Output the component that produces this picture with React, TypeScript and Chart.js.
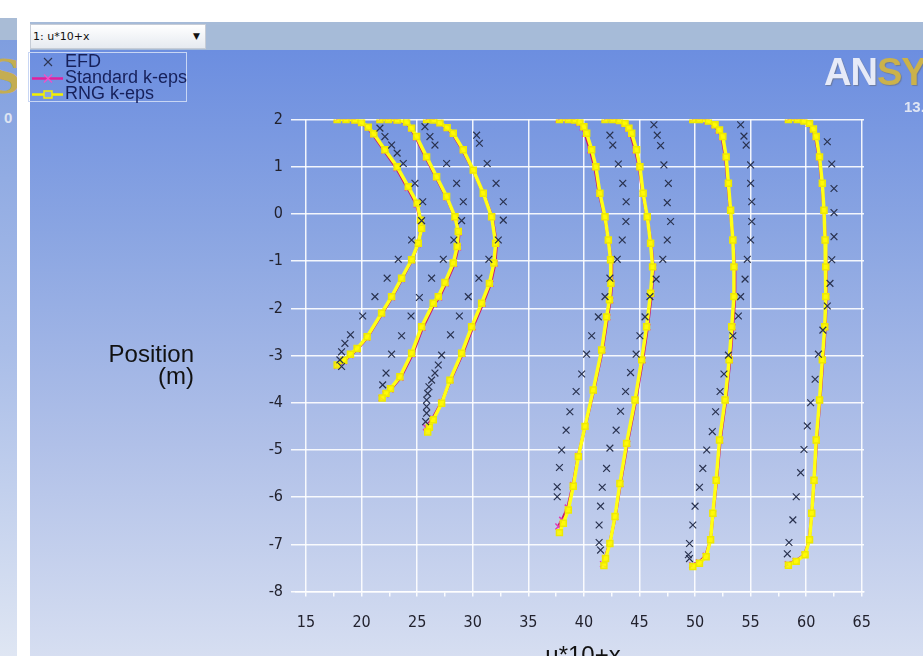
import React, { useEffect, useRef } from "react";
import { Chart, registerables } from "chart.js";

Chart.register(...registerables);

// ---- axis ticks ----
const xTickValues = [15, 17.5, 20, 22.5, 25, 27.5, 30, 32.5, 35, 37.5, 40, 42.5, 45, 47.5, 50, 52.5, 55, 57.5, 60, 62.5, 65];
const yTickValues = [-8, -7, -6, -5, -4, -3, -2, -1, 0, 1, 2];
const seriesNames = ["EFD", "Standard k-eps", "RNG k-eps"];
const xTitle = "u*10+x";
const yTitle = ["Position", "(m)"];

// ---- EFD (measured) profiles ----
const efdP1 = [[21.65,1.82],[22.1,1.64],[22.7,1.46],[23.2,1.29],[23.75,1.07],[24.8,0.65],[25.5,0.26],[25.4,-0.14],[24.5,-0.55],[23.3,-0.96],[22.3,-1.36],[21.2,-1.75],[20.1,-2.16],[19.0,-2.56],[18.5,-2.74],[18.2,-2.92],[18.05,-3.09],[18.2,-3.23]];
const efdP2 = [[25.7,1.85],[26.15,1.64],[26.6,1.46],[27.65,1.07],[28.55,0.65],[29.15,0.26],[29.0,-0.14],[28.3,-0.55],[27.35,-0.96],[26.3,-1.36],[25.2,-1.77],[24.45,-2.16],[23.6,-2.58],[22.7,-2.97],[22.2,-3.37],[21.9,-3.62]];
const efdP3 = [[30.35,1.67],[30.6,1.5],[31.3,1.07],[32.1,0.65],[32.75,0.26],[32.75,-0.13],[32.3,-0.55],[31.45,-0.96],[30.55,-1.36],[29.6,-1.75],[28.8,-2.16],[28.0,-2.56],[27.2,-2.99],[26.9,-3.2],[26.6,-3.37],[26.3,-3.52],[26.06,-3.66],[25.95,-3.8],[25.85,-3.94],[25.85,-4.08],[25.85,-4.22],[25.76,-4.4]];
const efdP4 = [[42.34,1.67],[42.6,1.46],[43.1,1.06],[43.5,0.65],[43.8,0.26],[43.78,-0.16],[43.45,-0.55],[43.0,-0.96],[42.34,-1.36],[41.9,-1.75],[41.3,-2.18],[40.7,-2.58],[40.24,-2.97],[39.8,-3.39],[39.3,-3.76],[38.74,-4.19],[38.4,-4.58],[38.0,-5.0],[37.8,-5.37],[37.6,-5.78],[37.6,-5.99]];
const efdP5 = [[46.3,1.89],[46.6,1.67],[46.9,1.45],[47.2,1.04],[47.6,0.65],[47.5,0.24],[47.8,-0.16],[47.5,-0.55],[47.1,-0.96],[46.5,-1.38],[45.94,-1.75],[45.5,-2.18],[45.04,-2.58],[44.7,-2.97],[44.2,-3.36],[43.75,-3.76],[43.3,-4.18],[42.9,-4.58],[42.34,-4.96],[42.04,-5.39],[41.65,-5.79],[41.5,-6.19],[41.37,-6.59],[41.37,-6.96],[41.5,-7.12]];
const efdP6 = [[54.1,1.89],[54.4,1.65],[54.6,1.46],[55.0,1.04],[55.0,0.65],[55.1,0.26],[55.1,-0.16],[55.0,-0.55],[54.7,-0.96],[54.5,-1.38],[54.1,-1.75],[53.9,-2.16],[53.4,-2.58],[53.0,-2.99],[52.6,-3.39],[52.25,-3.76],[51.85,-4.19],[51.55,-4.61],[51.05,-5.0],[50.7,-5.39],[50.4,-5.79],[50.0,-6.19],[49.8,-6.59],[49.5,-6.98],[49.4,-7.22],[49.5,-7.3]];
const efdP7 = [[61.9,1.53],[62.3,1.06],[62.5,0.54],[62.5,0.03],[62.5,-0.48],[62.3,-0.97],[62.14,-1.47],[61.9,-1.95],[61.5,-2.46],[61.1,-2.97],[60.8,-3.5],[60.4,-4.0],[60.1,-4.49],[59.8,-4.99],[59.5,-5.48],[59.1,-5.99],[58.8,-6.48],[58.45,-6.96],[58.3,-7.2]];

// ---- Standard k-eps profiles ----
const stdP1 = [[17.75,2.01],[18.55,2.0],[19.35,1.98],[19.95,1.93],[20.55,1.83],[21.05,1.68],[22.05,1.34],[23.15,0.97],[24.15,0.55],[24.95,0.2],[25.3,-0.15],[25.38,-0.32],[25.08,-0.64],[24.5,-0.99],[23.62,-1.38],[22.72,-1.77],[21.82,-2.12],[20.5,-2.62],[19.6,-2.87],[19.0,-2.99],[18.4,-3.12],[17.8,-3.22]];
const stdP2 = [[21.6,2.01],[22.35,2.0],[23.15,1.98],[24.0,1.94],[24.45,1.81],[24.9,1.62],[25.8,1.19],[26.72,0.77],[27.65,0.35],[28.42,-0.08],[28.76,-0.39],[28.68,-0.71],[28.33,-1.06],[27.58,-1.47],[26.98,-1.77],[26.53,-1.91],[25.48,-2.41],[24.58,-2.97],[23.5,-3.47],[22.6,-3.72],[22.15,-3.82],[21.8,-3.9]];
const stdP3 = [[25.8,2.01],[26.45,1.99],[27.0,1.93],[27.65,1.82],[28.2,1.7],[29.1,1.35],[30.05,0.92],[30.98,0.43],[31.75,-0.07],[32.14,-0.63],[32.0,-1.05],[31.6,-1.48],[30.9,-1.9],[30.0,-2.4],[29.08,-2.96],[28.0,-3.52],[27.2,-3.99],[26.4,-4.33],[26.0,-4.46],[25.8,-4.52]];
const stdP4 = [[37.7,2.0],[38.5,2.0],[39.1,1.98],[39.55,1.93],[39.88,1.83],[40.12,1.7],[40.58,1.35],[40.98,0.99],[41.38,0.43],[41.88,-0.07],[42.22,-0.56],[42.44,-0.98],[42.5,-1.48],[42.38,-1.83],[42.12,-2.19],[41.66,-2.89],[40.88,-3.74],[40.12,-4.5],[39.5,-5.12],[39.02,-5.74],[38.55,-6.22],[38.05,-6.48],[37.7,-6.62]];
const stdP5 = [[41.85,2.01],[42.55,2.0],[43.12,1.97],[43.62,1.91],[43.96,1.81],[44.2,1.7],[44.64,1.35],[44.98,0.99],[45.3,0.43],[45.7,-0.07],[46.04,-0.63],[46.24,-1.13],[46.08,-1.69],[45.72,-2.4],[45.28,-3.1],[44.66,-3.95],[43.9,-4.87],[43.28,-5.72],[42.82,-6.42],[42.32,-6.98],[41.9,-7.3],[41.72,-7.42]];
const stdP6 = [[49.75,2.01],[50.35,2.0],[51.1,1.97],[51.7,1.88],[52.1,1.77],[52.42,1.63],[52.74,1.2],[52.96,0.64],[53.18,0.07],[53.42,-0.56],[53.55,-1.13],[53.58,-1.76],[53.38,-2.4],[53.14,-3.1],[52.76,-3.95],[52.26,-4.8],[51.94,-5.65],[51.62,-6.35],[51.4,-6.9],[50.96,-7.24],[50.35,-7.38],[49.75,-7.44]];
const stdP7 = [[58.35,2.01],[59.15,2.0],[59.75,1.97],[60.22,1.91],[60.58,1.79],[60.84,1.63],[61.16,1.2],[61.42,0.64],[61.6,0.07],[61.72,-0.56],[61.8,-1.13],[61.8,-1.76],[61.72,-2.4],[61.5,-3.1],[61.24,-3.95],[60.94,-4.8],[60.72,-5.65],[60.5,-6.35],[60.28,-6.9],[59.86,-7.22],[59.05,-7.35],[58.35,-7.42]];

// ---- RNG k-eps profiles ----
const rngP1 = [[17.8,2.0],[18.6,2.0],[19.4,1.99],[20.0,1.94],[20.6,1.84],[21.1,1.7],[22.1,1.36],[23.2,1.0],[24.2,0.58],[25.0,0.23],[25.3,-0.13],[25.4,-0.3],[25.1,-0.62],[24.5,-0.97],[23.6,-1.36],[22.7,-1.75],[21.8,-2.1],[20.5,-2.6],[19.6,-2.85],[19.0,-2.97],[18.4,-3.1],[17.8,-3.2]];
const rngP2 = [[21.65,2.0],[22.4,2.0],[23.2,1.99],[24.05,1.95],[24.5,1.82],[24.95,1.64],[25.85,1.21],[26.75,0.79],[27.65,0.37],[28.4,-0.06],[28.7,-0.37],[28.6,-0.69],[28.25,-1.04],[27.5,-1.45],[26.9,-1.75],[26.45,-1.89],[25.4,-2.39],[24.5,-2.95],[23.45,-3.45],[22.6,-3.7],[22.2,-3.8],[21.85,-3.9]];
const rngP3 = [[25.85,2.0],[26.5,1.99],[27.05,1.93],[27.7,1.83],[28.25,1.71],[29.15,1.36],[30.05,0.93],[30.95,0.44],[31.7,-0.06],[32.06,-0.62],[31.9,-1.04],[31.5,-1.47],[30.8,-1.89],[29.9,-2.39],[29.0,-2.95],[27.95,-3.52],[27.2,-4.01],[26.45,-4.36],[26.1,-4.52],[25.95,-4.62]];
const rngP4 = [[37.8,2.0],[38.6,2.0],[39.2,1.99],[39.65,1.95],[40.0,1.85],[40.25,1.71],[40.7,1.36],[41.08,1.0],[41.44,0.44],[41.9,-0.06],[42.2,-0.55],[42.4,-0.97],[42.43,-1.47],[42.3,-1.82],[42.04,-2.18],[41.6,-2.88],[40.84,-3.73],[40.1,-4.5],[39.5,-5.14],[39.04,-5.77],[38.6,-6.27],[38.15,-6.55],[37.8,-6.75]];
const rngP5 = [[41.9,2.0],[42.6,2.0],[43.2,1.98],[43.7,1.92],[44.05,1.82],[44.3,1.71],[44.74,1.36],[45.04,1.0],[45.33,0.44],[45.7,-0.06],[46.0,-0.62],[46.18,-1.12],[46.0,-1.68],[45.64,-2.39],[45.2,-3.09],[44.6,-3.94],[43.84,-4.86],[43.24,-5.71],[42.8,-6.41],[42.34,-6.98],[41.95,-7.3],[41.8,-7.45]];
const rngP6 = [[49.8,2.0],[50.4,2.0],[51.2,1.97],[51.8,1.89],[52.2,1.78],[52.5,1.64],[52.8,1.21],[53.0,0.65],[53.2,0.08],[53.4,-0.55],[53.5,-1.12],[53.5,-1.75],[53.3,-2.39],[53.07,-3.09],[52.7,-3.94],[52.2,-4.79],[51.9,-5.64],[51.6,-6.34],[51.4,-6.9],[51.0,-7.26],[50.4,-7.4],[49.8,-7.47]];
const rngP7 = [[58.4,2.0],[59.2,2.0],[59.8,1.97],[60.3,1.92],[60.65,1.8],[60.9,1.64],[61.2,1.21],[61.45,0.65],[61.6,0.08],[61.7,-0.55],[61.76,-1.12],[61.76,-1.75],[61.67,-2.39],[61.45,-3.09],[61.2,-3.94],[60.9,-4.79],[60.7,-5.64],[60.5,-6.34],[60.3,-6.9],[59.9,-7.22],[59.1,-7.36],[58.4,-7.44]];

const efdProfiles = [efdP1, efdP2, efdP3, efdP4, efdP5, efdP6, efdP7];
const stdProfiles = [stdP1, stdP2, stdP3, stdP4, stdP5, stdP6, stdP7];
const rngProfiles = [rngP1, rngP2, rngP3, rngP4, rngP5, rngP6, rngP7];

const TICK_FONT = "'Liberation Sans Narrow', 'DejaVu Sans Condensed', 'Liberation Sans', sans-serif";
const SANS = "'Liberation Sans', Arial, sans-serif";

const toPts = (a: number[][]) => a.map(([x, y]) => ({ x, y }));

export default function App() {
  const ref = useRef<HTMLCanvasElement | null>(null);

  useEffect(() => {
    document.body.style.margin = "0";
    if (!ref.current) return;
    const datasets: any[] = [];
    efdProfiles.forEach((p) =>
      datasets.push({
        label: seriesNames[0],
        data: toPts(p),
        showLine: false,
        pointStyle: "crossRot",
        pointRadius: 4.8,
        pointBorderColor: "#2a3350",
        pointBorderWidth: 1.2,
        order: 1,
      })
    );
    rngProfiles.forEach((p) =>
      datasets.push({
        label: seriesNames[2],
        data: toPts(p),
        showLine: true,
        tension: 0,
        borderColor: "#ffff14",
        borderWidth: 3.5,
        pointStyle: "rect",
        pointRadius: 4.2,
        pointBackgroundColor: "rgba(255,250,0,0.85)",
        pointBorderColor: "#eeea00",
        pointBorderWidth: 1.5,
        order: 2,
      })
    );
    stdProfiles.forEach((p) =>
      datasets.push({
        label: seriesNames[1],
        data: toPts(p),
        showLine: true,
        tension: 0,
        borderColor: "#cc1670",
        borderWidth: 3,
        pointStyle: "crossRot",
        pointRadius: 4.2,
        pointBorderColor: "#e03cb4",
        pointBorderWidth: 1.5,
        order: 3,
      })
    );

    const gridWhite = "rgba(255,255,255,0.9)";
    const chart = new Chart(ref.current, {
      type: "scatter",
      data: { datasets },
      options: {
        animation: false,
        responsive: false,
        events: [],
        layout: { padding: { top: 69.6, right: 59, left: 0, bottom: 0 } },
        plugins: { legend: { display: false }, tooltip: { enabled: false } },
        scales: {
          x: {
            type: "linear",
            min: 14.1,
            max: 65.2,
            afterBuildTicks: (s: any) => {
              s.ticks = xTickValues.map((v) => ({ value: v }));
            },
            afterFit: (s: any) => {
              s.height = 64.4;
            },
            border: { display: true, color: gridWhite, width: 1.5 },
            grid: {
              color: (c: any) => (c.tick && c.tick.value % 5 === 0 ? gridWhite : "rgba(0,0,0,0)"),
              tickColor: gridWhite,
              lineWidth: 1.5,
              tickLength: 5,
            },
            ticks: {
              autoSkip: false,
              maxRotation: 0,
              padding: 17,
              color: "#22222e",
              font: { family: TICK_FONT, size: 16 },
              callback: (v: any) => (Number(v) % 5 === 0 ? String(v) : ""),
            },
          },
          y: {
            type: "linear",
            min: -8,
            max: 2,
            afterBuildTicks: (s: any) => {
              s.ticks = yTickValues.map((v) => ({ value: v }));
            },
            afterFit: (s: any) => {
              s.width = 266;
            },
            border: { display: false },
            grid: { color: gridWhite, tickColor: gridWhite, lineWidth: 1.5, tickLength: 5 },
            ticks: {
              padding: 8,
              color: "#22222e",
              font: { family: TICK_FONT, size: 16 },
              callback: (v: any) => String(v),
            },
          },
        },
      },
    });
    return () => chart.destroy();
  }, []);

  const legendRow = (top: number, kind: number, text: string) => (
    <div style={{ position: "absolute", left: 0, top, height: 17, width: 160 }}>
      <svg width={34} height={17} style={{ position: "absolute", left: 2, top: 0 }}>
        {kind === 0 && (
          <g stroke="#2d3654" strokeWidth={1.1}>
            <line x1={13} y1={4} x2={21} y2={12} />
            <line x1={21} y1={4} x2={13} y2={12} />
          </g>
        )}
        {kind === 1 && (
          <g>
            <line x1={1} y1={8.5} x2={32} y2={8.5} stroke="#e0209e" strokeWidth={2.5} />
            <line x1={13} y1={4.5} x2={21} y2={12.5} stroke="#f050c8" strokeWidth={1.5} />
            <line x1={21} y1={4.5} x2={13} y2={12.5} stroke="#f050c8" strokeWidth={1.5} />
          </g>
        )}
        {kind === 2 && (
          <g>
            <line x1={1} y1={8.5} x2={32} y2={8.5} stroke="#f4f000" strokeWidth={2.5} />
            <rect x={13} y={5} width={8} height={7} fill="#8aa6e2" stroke="#f4f000" strokeWidth={1.5} />
          </g>
        )}
      </svg>
      <span
        style={{
          position: "absolute",
          left: 36,
          top: -3,
          fontFamily: SANS,
          fontSize: 18,
          lineHeight: "20px",
          color: "#16205a",
          whiteSpace: "nowrap",
        }}
      >
        {text}
      </span>
    </div>
  );

  return (
    <div style={{ position: "relative", width: 923, height: 656, overflow: "hidden", background: "#ffffff" }}>
      {/* neighbouring window strip */}
      <div style={{ position: "absolute", left: 0, top: 18, width: 17, height: 22, background: "#a9bcd6" }} />
      <div
        style={{
          position: "absolute",
          left: 0,
          top: 40,
          width: 17,
          height: 616,
          overflow: "hidden",
          background: "linear-gradient(#7f9edf, #a9bde8 50%, #dfe6f3)",
        }}
      >
        <div style={{ position: "absolute", left: -12, top: 12, fontFamily: "'DejaVu Serif', serif", fontSize: 46, fontWeight: "bold", color: "#c4ad52", lineHeight: "50px" }}>S</div>
        <div style={{ position: "absolute", left: 4, top: 70, fontFamily: SANS, fontSize: 15, fontWeight: "bold", color: "#dde4f2", lineHeight: "16px" }}>0</div>
      </div>

      {/* toolbar */}
      <div style={{ position: "absolute", left: 30, top: 22, width: 893, height: 28, background: "#a6bbd8" }} />
      <div
        style={{
          position: "absolute",
          left: 30,
          top: 24,
          width: 174,
          height: 23,
          background: "linear-gradient(#ffffff, #e6eaf0)",
          border: "1px solid #c6ccd6",
          fontFamily: "'DejaVu Sans', sans-serif",
          fontSize: 11,
          color: "#111",
          lineHeight: "23px",
        }}
      >
        <span style={{ position: "absolute", left: 2, top: 0 }}>1: u*10+x</span>
        <span style={{ position: "absolute", left: 162, top: 0, fontSize: 9 }}>▼</span>
      </div>

      {/* plot window background */}
      <div
        style={{
          position: "absolute",
          left: 30,
          top: 50,
          width: 893,
          height: 606,
          background: "linear-gradient(#6c8ee0 0%, #8aa5e2 30%, #b0c0e8 65%, #d6def1 100%)",
        }}
      />
      <canvas ref={ref} width={893} height={606} style={{ position: "absolute", left: 30, top: 50 }} />

      {/* legend */}
      <div
        style={{
          position: "absolute",
          left: 28,
          top: 52,
          width: 159,
          height: 50,
          border: "1px solid #c8d6f4",
          boxSizing: "border-box",
        }}
      >
        {legendRow(1, 0, seriesNames[0])}
        {legendRow(17, 1, seriesNames[1])}
        {legendRow(33, 2, seriesNames[2])}
      </div>

      {/* logo */}
      <div
        style={{
          position: "absolute",
          left: 824,
          top: 52,
          fontFamily: SANS,
          fontWeight: "bold",
          fontSize: 38,
          lineHeight: "40px",
          whiteSpace: "nowrap",
          letterSpacing: -1,
          textShadow: "1px 1px 1px #6a7aa0",
        }}
      >
        <span style={{ color: "#e6eaf8" }}>AN</span>
        <span style={{ color: "#cbb24a" }}>SYS</span>
      </div>
      <div style={{ position: "absolute", left: 904, top: 98, fontFamily: SANS, fontWeight: "bold", fontSize: 15, color: "#e0e6f4", whiteSpace: "nowrap" }}>13.0</div>

      {/* axis titles */}
      <div
        style={{
          position: "absolute",
          left: 60,
          top: 343,
          width: 134,
          textAlign: "right",
          fontFamily: SANS,
          fontSize: 24,
          lineHeight: "22px",
          color: "#111",
        }}
      >
        <div>{yTitle[0]}</div>
        <div>{yTitle[1]}</div>
      </div>
      <div
        style={{
          position: "absolute",
          left: 483,
          width: 200,
          top: 641,
          textAlign: "center",
          fontFamily: SANS,
          fontSize: 24,
          lineHeight: "28px",
          color: "#111",
        }}
      >
        {xTitle}
      </div>
    </div>
  );
}
